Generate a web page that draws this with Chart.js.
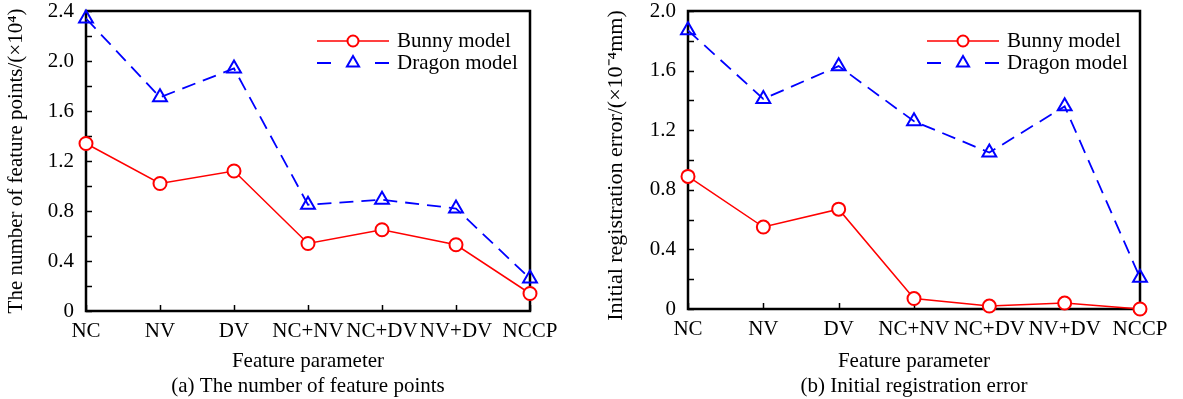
<!DOCTYPE html>
<html>
<head>
<meta charset="utf-8">
<script src="https://cdn.jsdelivr.net/npm/chart.js@4"></script>
<style>
  body { margin: 0; background: #fff; }
  #wrap { position: relative; width: 1183px; height: 399px; }
  canvas { position: absolute; top: 0; }
</style>
</head>
<body>
<div id="wrap">
  <canvas id="left" width="590" height="399" style="left:0"></canvas>
  <canvas id="right" width="593" height="399" style="left:590px"></canvas>
</div>
<script>
// categories and values
var features = ["NC", "NV", "DV", "NC+NV", "NC+DV", "NV+DV", "NCCP"];
var seriesNames = ["Bunny model", "Dragon model"];
// (a) number of feature points, x10^4
var bunnyPoints = [1.34, 1.02, 1.12, 0.54, 0.65, 0.53, 0.14];
var dragonPoints = [2.34, 1.71, 1.94, 0.85, 0.89, 0.82, 0.26];
// (b) initial registration error, x10^-4 mm
var bunnyError = [0.89, 0.55, 0.67, 0.07, 0.02, 0.04, 0.0];
var dragonError = [1.87, 1.41, 1.63, 1.26, 1.05, 1.36, 0.21];

Chart.defaults.font.family = '"Liberation Serif", "Times New Roman", serif';
Chart.defaults.color = "#000";

var RED = "#ff0000";
var BLUE = "#0000ff";

// box around plot + inward ticks
var framePlugin = {
  id: "frame",
  beforeDatasetsDraw: function (chart) {
    var ctx = chart.ctx, a = chart.chartArea;
    var ys = chart.scales.y, xs = chart.scales.x;
    ctx.save();
    ctx.strokeStyle = "#000";
    ctx.lineWidth = 1.5;
    // minor + major ticks every 0.2 on the left axis
    for (var v = 0; v <= ys.max + 1e-9; v += 0.2) {
      var py = Math.round(ys.getPixelForValue(v)) + 0.5;
      ctx.beginPath();
      ctx.moveTo(a.left, py);
      ctx.lineTo(a.left + 6, py);
      ctx.stroke();
    }
    for (var i = 0; i < features.length; i++) {
      var px = Math.round(xs.getPixelForValue(i)) + 0.5;
      ctx.beginPath();
      ctx.moveTo(px, a.bottom);
      ctx.lineTo(px, a.bottom - 6);
      ctx.stroke();
    }
    ctx.lineWidth = 2.5;
    ctx.strokeRect(a.left, a.top, a.right - a.left, a.bottom - a.top);
    ctx.restore();
  }
};

// legend with line + marker, inside upper right
var legendPlugin = {
  id: "lineLegend",
  afterDraw: function (chart) {
    var ctx = chart.ctx, a = chart.chartArea;
    var x0 = a.right - 213, x1 = a.right - 141, xm = (x0 + x1) / 2;
    var tx = a.right - 133;
    var rows = [a.top + 30, a.top + 52];
    ctx.save();
    // Bunny
    ctx.strokeStyle = RED;
    ctx.lineWidth = 1.5;
    ctx.beginPath();
    ctx.moveTo(x0, rows[0]);
    ctx.lineTo(x1, rows[0]);
    ctx.stroke();
    ctx.lineWidth = 2;
    ctx.fillStyle = "#fff";
    ctx.beginPath();
    ctx.arc(xm, rows[0], 5.5, 0, Math.PI * 2);
    ctx.fill();
    ctx.stroke();
    // Dragon
    ctx.strokeStyle = BLUE;
    ctx.lineWidth = 1.8;
    ctx.beginPath();
    ctx.moveTo(x0, rows[1]);
    ctx.lineTo(x0 + 14, rows[1]);
    ctx.moveTo(x1 - 14, rows[1]);
    ctx.lineTo(x1, rows[1]);
    ctx.stroke();
    ctx.lineWidth = 2;
    ctx.beginPath();
    var r = 7;
    ctx.moveTo(xm, rows[1] - r);
    ctx.lineTo(xm + r * 0.866, rows[1] + r / 2);
    ctx.lineTo(xm - r * 0.866, rows[1] + r / 2);
    ctx.closePath();
    ctx.stroke();
    // text
    ctx.fillStyle = "#000";
    ctx.font = '21px "Liberation Serif", serif';
    ctx.textBaseline = "middle";
    ctx.fillText(seriesNames[0], tx, rows[0]);
    ctx.fillText(seriesNames[1], tx, rows[1]);
    ctx.restore();
  }
};

function makeChart(id, bunny, dragon, yMax, yTitle, yTitleSize, caption, yWidth, padRight, xHeight, titlePad) {
  return new Chart(document.getElementById(id), {
    type: "line",
    data: {
      labels: features,
      datasets: [
        {
          label: seriesNames[0],
          data: bunny,
          borderColor: RED,
          borderWidth: 1.5,
          pointStyle: "circle",
          pointRadius: 6.5,
          pointBorderWidth: 2,
          pointBorderColor: RED,
          pointBackgroundColor: "#fff",
          tension: 0,
          clip: false
        },
        {
          label: seriesNames[1],
          data: dragon,
          borderColor: BLUE,
          borderWidth: 1.8,
          borderDash: [14, 8],
          pointStyle: "triangle",
          pointRadius: 8,
          pointBorderWidth: 2,
          pointBorderColor: BLUE,
          pointBackgroundColor: "rgba(255,255,255,0)",
          tension: 0,
          clip: false
        }
      ]
    },
    options: {
      responsive: false,
      animation: false,
      events: [],
      layout: { padding: { top: 11, right: padRight, bottom: 0, left: 0 } },
      plugins: {
        legend: { display: false },
        tooltip: { enabled: false }
      },
      scales: {
        x: {
          offset: false,
          grid: { display: false, drawTicks: false },
          border: { display: false },
          ticks: { font: { size: 21 }, padding: 8, maxRotation: 0, autoSkip: false },
          title: {
            display: true,
            text: ["Feature parameter", caption],
            font: { size: 21, lineHeight: 1.2 },
            padding: { top: 0, bottom: 0 }
          },
          afterFit: function (s) { s.height = xHeight; }
        },
        y: {
          min: 0,
          max: yMax,
          grid: { display: false, drawTicks: false },
          border: { display: false },
          ticks: {
            stepSize: 0.4,
            font: { size: 21 },
            padding: 12,
            callback: function (v) { return v === 0 ? "0" : v.toFixed(1); }
          },
          title: {
            display: true,
            text: yTitle,
            font: { size: yTitleSize, lineHeight: 1.2 },
            padding: { top: titlePad, bottom: 0 }
          },
          afterFit: function (s) {
            s.width = yWidth;
            s.paddingTop = 0;
            s.paddingBottom = 0;
          }
        }
      }
    },
    plugins: [framePlugin, legendPlugin]
  });
}

makeChart("left", bunnyPoints, dragonPoints, 2.4,
  "The number of feature points/(\u00d710\u2074)", 21,
  "(a) The number of feature points", 86, 60, 88, 4);
makeChart("right", bunnyError, dragonError, 2.0,
  "Initial registration error/(\u00d710\u207b\u2074mm)\u00a0\u00a0", 22,
  "(b) Initial registration error", 98, 43, 90, 13);
</script>
</body>
</html>
